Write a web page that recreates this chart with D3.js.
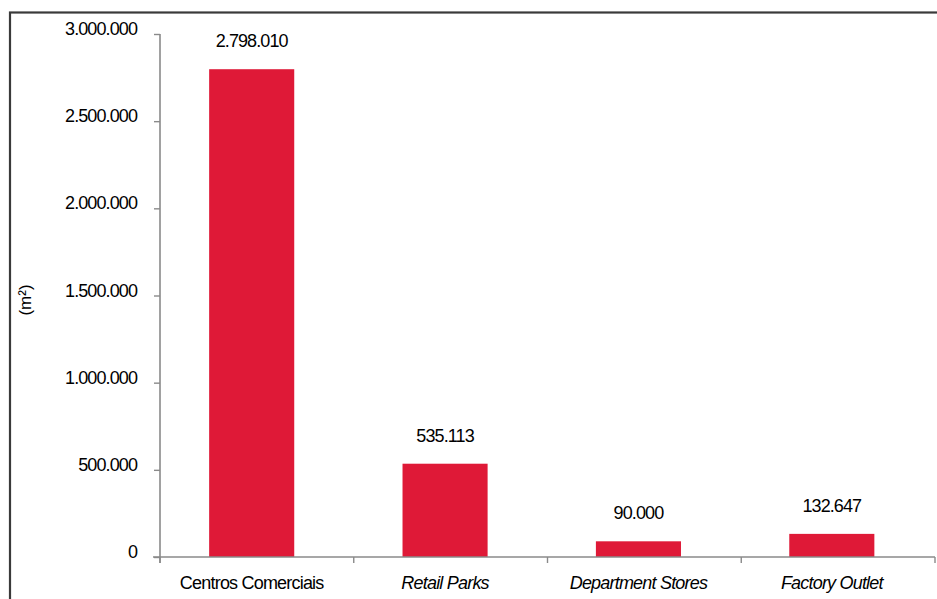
<!DOCTYPE html>
<html>
<head>
<meta charset="utf-8">
<script src="https://cdn.jsdelivr.net/npm/d3@7/dist/d3.min.js"></script>
<style>
  html, body { margin: 0; padding: 0; background: #fff; }
  svg { display: block; }
  text { font-family: "Liberation Sans", Arial, sans-serif; fill: #000; }
</style>
</head>
<body>
<svg id="chart" width="937" height="599"></svg>
<script>
// Retail floor area by format (m²)
const categories = ["Centros Comerciais", "Retail Parks", "Department Stores", "Factory Outlet"];
const italicCategories = ["Retail Parks", "Department Stores", "Factory Outlet"];
const areaValues = [2798010, 535113, 90000, 132647];
const yTicks = [0, 500000, 1000000, 1500000, 2000000, 2500000, 3000000];
const yLabel = "(m²)";

const ptLocale = d3.formatLocale({ decimal: ",", thousands: ".", grouping: [3], currency: ["", ""] });
const fmt = ptLocale.format(",d");

const svg = d3.select("#chart");
const axisColor = "#8a8a8a";
const barColor = "#DF1937";
const textSize = "18px";
const textSpacing = "-0.9px";

// outer frame (runs past the right and bottom edges)
svg.append("rect")
  .attr("x", 10).attr("y", 12.5)
  .attr("width", 1000).attr("height", 700)
  .attr("fill", "none")
  .attr("stroke", "#3a3a3a")
  .attr("stroke-width", 2.2);

const x = d3.scaleBand().domain(categories).range([155, 928.5]).paddingInner(0.56).paddingOuter(0.28);
const y = d3.scaleLinear().domain([0, 3000000]).range([557, 34]);
// category divider positions along the x axis
const divider = d3.scaleLinear().domain([0, categories.length]).range([160, 935]);

// y axis
const yAxis = svg.append("g")
  .attr("transform", "translate(160,0)")
  .call(d3.axisLeft(y).tickValues(yTicks).tickFormat(fmt).tickSize(6).tickPadding(17).tickSizeOuter(0));
yAxis.select(".domain").attr("stroke", axisColor).attr("stroke-width", 1.6)
  .attr("d", `M0,${y(3000000)}V${y(0) + 6}`);
yAxis.selectAll(".tick line").attr("stroke", axisColor).attr("stroke-width", 1.4);
yAxis.selectAll(".tick text")
  .attr("dy", "0.2em")
  .attr("y", -3)
  .style("font-size", textSize)
  .style("letter-spacing", textSpacing)
  .attr("fill", "#000");

// bars
svg.append("g").selectAll("rect")
  .data(categories)
  .join("rect")
  .attr("x", d => x(d))
  .attr("width", x.bandwidth())
  .attr("y", (d, i) => y(areaValues[i]))
  .attr("height", (d, i) => y(0) - y(areaValues[i]))
  .attr("fill", barColor);

// x axis with category dividers
const xAxisG = svg.append("g").attr("transform", `translate(0,${y(0)})`);
xAxisG.append("line")
  .attr("x1", 153).attr("x2", 935)
  .attr("stroke", axisColor).attr("stroke-width", 1.6);
xAxisG.selectAll(".div")
  .data(d3.range(categories.length + 1))
  .join("line")
  .attr("x1", i => divider(i))
  .attr("x2", i => divider(i))
  .attr("y1", 0).attr("y2", 6)
  .attr("stroke", axisColor).attr("stroke-width", 1.4);

// category labels
svg.append("g").selectAll("text")
  .data(categories)
  .join("text")
  .attr("x", d => x(d) + x.bandwidth() / 2)
  .attr("y", 589)
  .attr("text-anchor", "middle")
  .style("font-size", textSize)
  .style("letter-spacing", "-0.8px")
  .style("font-style", d => italicCategories.includes(d) ? "italic" : "normal")
  .text(d => d);

// value labels
svg.append("g").selectAll("text")
  .data(categories)
  .join("text")
  .attr("x", d => x(d) + x.bandwidth() / 2)
  .attr("y", (d, i) => y(areaValues[i]) - 22)
  .attr("text-anchor", "middle")
  .style("font-size", textSize)
  .style("letter-spacing", textSpacing)
  .text((d, i) => fmt(areaValues[i]));

// y axis title
svg.append("text")
  .attr("transform", "translate(31,300) rotate(-90)")
  .attr("text-anchor", "middle")
  .style("font-size", "17px")
  .text(yLabel);
</script>
</body>
</html>
